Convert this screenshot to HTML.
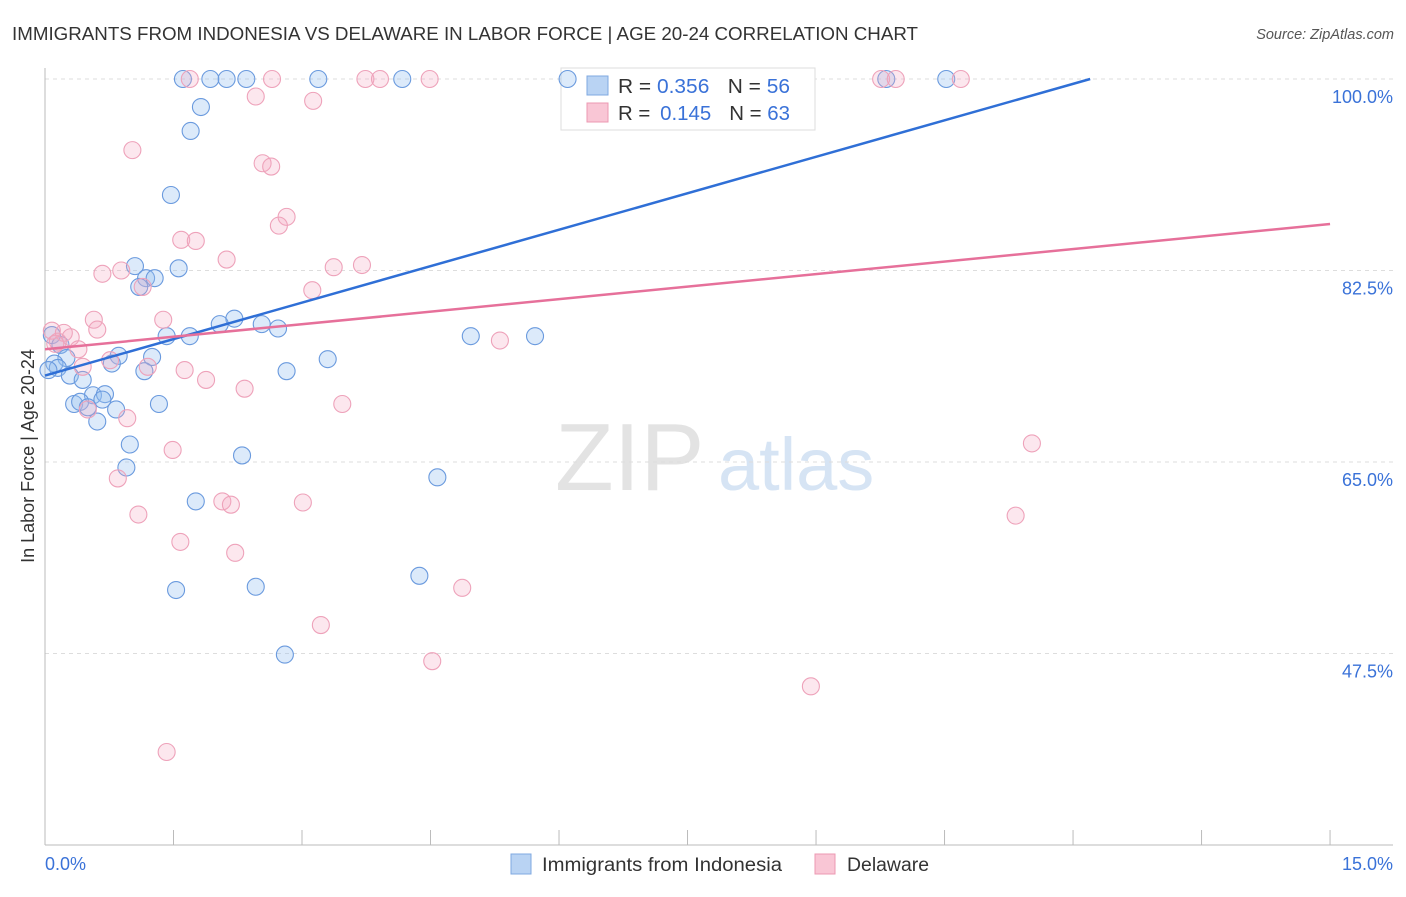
<!DOCTYPE html>
<html><head><meta charset="utf-8"><style>
body{margin:0;background:#fff;font-family:"Liberation Sans",sans-serif;}
svg text{font-family:"Liberation Sans",sans-serif;}
</style></head><body>
<svg id="chart" width="1406" height="892">
<text x="12" y="40" font-size="18" textLength="906" lengthAdjust="spacingAndGlyphs" fill="#333">IMMIGRANTS FROM INDONESIA VS DELAWARE IN LABOR FORCE | AGE 20-24 CORRELATION CHART</text>
<text x="1394" y="39" font-size="14.5" fill="#555" font-style="italic" text-anchor="end">Source: ZipAtlas.com</text>
<text transform="translate(34,456) rotate(-90)" font-size="18" fill="#333" text-anchor="middle">In Labor Force | Age 20-24</text>
<g>
<text x="555" y="490" font-size="96" fill="#e3e3e3" font-family="Liberation Serif">ZIP</text>
<text x="718" y="490" font-size="74" fill="#d6e4f4">atlas</text>
</g>
<g id="grid"></g><g id="axes"></g>
<g>
<rect x="561" y="68" width="254" height="62" fill="#fff" stroke="#ddd"/>
<rect x="587" y="76" width="21" height="19" fill="#b9d3f3" stroke="#7fa8e0"/>
<rect x="587" y="103" width="21" height="19" fill="#f9c6d5" stroke="#ec98b2"/>
<text x="618" y="93" font-size="20" fill="#333" textLength="172" lengthAdjust="spacingAndGlyphs">R = <tspan fill="#3a72d8">0.356</tspan>  <tspan dx="12">N = </tspan><tspan fill="#3a72d8">56</tspan></text>
<text x="618" y="120" font-size="20" fill="#333" textLength="172" lengthAdjust="spacingAndGlyphs">R = <tspan dx="4" fill="#3a72d8">0.145</tspan>  <tspan dx="12">N = </tspan><tspan fill="#3a72d8">63</tspan></text>
</g>
<g id="pts"></g><g id="lines"></g>
<g>
<rect x="511" y="854" width="20" height="20" fill="#b9d3f3" stroke="#7fa8e0"/>
<text x="542" y="871" font-size="19" textLength="240" lengthAdjust="spacingAndGlyphs" fill="#333">Immigrants from Indonesia</text>
<rect x="815" y="854" width="20" height="20" fill="#f9c6d5" stroke="#ec98b2"/>
<text x="847" y="871" font-size="19" textLength="82" lengthAdjust="spacingAndGlyphs" fill="#333">Delaware</text>
</g>
</svg>
<script>
const yTicks=[47.5,65,82.5,100];
const yTickLabels=["47.5%","65.0%","82.5%","100.0%"];
const xTickLabels=["0.0%","15.0%"];
const blueX=[1.61,1.93,2.12,2.35,3.19,4.17,6.10,9.82,10.52,1.82,1.70,1.47,1.05,1.18,1.28,1.56,1.10,2.21,2.04,2.53,2.72,1.42,1.69,4.97,5.72,0.08,0.18,0.25,0.86,1.25,3.30,0.11,0.15,0.04,0.78,1.16,2.82,0.29,0.44,0.56,0.70,0.34,0.41,0.50,0.67,0.83,1.33,0.61,0.99,2.30,0.95,4.58,1.76,4.37,1.53,2.46,2.80];
const blueY=[100,100,100,100,100,100,100,100,100,97.44,95.25,89.4,82.9,81.8,81.8,82.7,81.0,78.1,77.6,77.6,77.2,76.5,76.5,76.5,76.5,76.6,75.7,74.5,74.7,74.6,74.4,74.0,73.6,73.4,74.0,73.3,73.3,72.9,72.5,71.1,71.2,70.3,70.5,70.0,70.7,69.8,70.3,68.7,66.6,65.6,64.5,63.6,61.4,54.6,53.3,53.6,47.4];
const pinkX=[1.69,2.65,3.74,3.91,4.49,9.76,9.93,10.69,2.46,3.13,1.02,2.54,2.64,2.82,2.73,1.59,1.76,2.12,0.67,0.89,1.14,3.37,3.70,3.12,0.57,1.38,0.08,0.22,0.30,0.61,0.12,0.39,0.15,5.31,0.76,0.44,1.20,1.63,1.88,2.33,3.47,0.50,0.96,1.49,11.52,0.85,1.09,2.07,2.17,3.01,11.33,1.58,2.22,4.87,3.22,4.52,8.94,1.42];
const pinkY=[100,100,100,100,100,100,100,100,98.4,98.0,93.5,92.3,92.0,87.4,86.6,85.3,85.2,83.5,82.2,82.5,81.0,82.8,83.0,80.7,78.0,78.0,77.0,76.8,76.4,77.1,75.8,75.3,76.0,76.1,74.3,73.7,73.7,73.4,72.5,71.7,70.3,69.8,69.0,66.1,66.7,63.5,60.2,61.4,61.1,61.3,60.1,57.7,56.7,53.5,50.1,46.8,44.5,38.5];
const blueTrend=[[0,72.9],[12.2,100]];
const pinkTrend=[[0,75.3],[15,86.75]];
const NS="http://www.w3.org/2000/svg";
const X=v=>45+v*85.67, Y=v=>79+(100-v)*10.943;
function mk(tag,attrs,parent){const e=document.createElementNS(NS,tag);for(const k in attrs)e.setAttribute(k,attrs[k]);document.getElementById(parent).appendChild(e);return e;}
yTicks.forEach((t,i)=>{
 const l=mk('line',{x1:45,x2:1393,y1:Y(t),y2:Y(t),stroke:'#ddd','stroke-dasharray':'4,4'},'grid');
 
 
 const tx=mk('text',{x:1393,y:Y(t)+24,'font-size':18,fill:'#3a72d8','text-anchor':'end'},'grid');
 tx.textContent=yTickLabels[i];
 
 
});
let a=mk('line',{x1:45,x2:45,y1:68,y2:845,stroke:'#bbb'},'axes');


a=mk('line',{x1:45,x2:1393,y1:845,y2:845,stroke:'#bbb'},'axes');


for(let i=0;i<=10;i++){const t=mk('line',{x1:X(i*1.5),x2:X(i*1.5),y1:830,y2:845,stroke:'#bbb'},'axes');
 
 }
[[0,45,'start'],[1,1393,'end']].forEach(([i,x,an])=>{const t=mk('text',{x:x,y:870,'font-size':18,fill:'#3a72d8','text-anchor':an},'axes');t.textContent=xTickLabels[i];
 
 });
blueX.forEach((v,i)=>{const c=mk('circle',{cx:X(v),cy:Y(blueY[i]),r:8.5,fill:'rgba(150,190,240,0.33)',stroke:'#6a9ade','stroke-width':1.1},'pts');
 
 });
pinkX.forEach((v,i)=>{const c=mk('circle',{cx:X(v),cy:Y(pinkY[i]),r:8.5,fill:'rgba(245,170,195,0.28)',stroke:'#eea2ba','stroke-width':1.1},'pts');
 
 });
let ln=mk('line',{x1:X(blueTrend[0][0]),y1:Y(blueTrend[0][1]),x2:X(blueTrend[1][0]),y2:Y(blueTrend[1][1]),stroke:'#2f6fd6','stroke-width':2.5},'lines');


ln=mk('line',{x1:X(pinkTrend[0][0]),y1:Y(pinkTrend[0][1]),x2:X(pinkTrend[1][0]),y2:Y(pinkTrend[1][1]),stroke:'#e6709a','stroke-width':2.5},'lines');


</script>
</body></html>
